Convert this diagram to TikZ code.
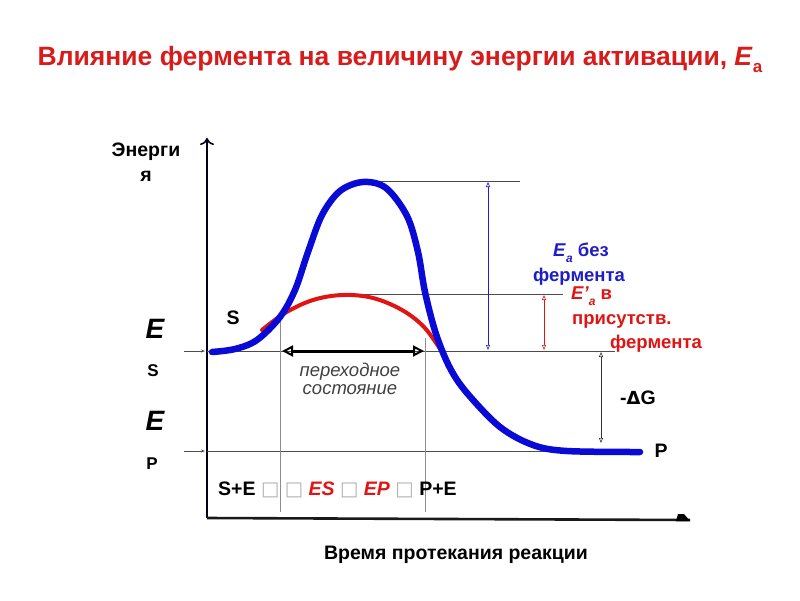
\documentclass[tikz,border=0pt]{standalone}
\usepackage{fontspec}
\setmainfont{Liberation Sans}
\setsansfont{Liberation Sans}
\newfontfamily\symfont{DejaVu Sans}
\usetikzlibrary{arrows.meta}
\definecolor{tred}{RGB}{216,28,28}
\definecolor{cred}{RGB}{225,20,20}
\definecolor{cblue}{RGB}{10,10,215}
\definecolor{tblue}{RGB}{30,30,200}
\newcommand{\gbx}{{\symfont\color{black!30}□}}
\begin{document}
\begin{tikzpicture}[x=1pt,y=-1pt,
  lbl/.style={font=\bfseries\fontsize{19.5}{22}\selectfont, inner sep=0pt},
  slbl/.style={font=\bfseries\fontsize{18.5}{20}\selectfont, inner sep=0pt},
  biglbl/.style={font=\bfseries\itshape\fontsize{28}{30}\selectfont, inner sep=0pt},
  smlbl/.style={font=\bfseries\fontsize{17}{19}\selectfont, inner sep=0pt},
  thinline/.style={draw=black!70, line width=0.6pt},
  greyline/.style={draw=black!45, line width=0.9pt},
  vtip/.style={{Triangle[open,length=5pt,width=4pt]}-{Triangle[open,length=5pt,width=4pt]}, line width=0.6pt}]
\useasboundingbox (0,0) rectangle (800,600);

% title
\node[font=\bfseries\fontsize{26.5}{30}\selectfont, text=tred, inner sep=0pt] (title) at (400,59)
  {Влияние фермента на величину энергии активации, \textit{E}\raisebox{-0.5ex}{\fontsize{17}{17}\selectfont а}};

% axes
\coordinate (o) at (207,518);
\coordinate (ytop) at (207,138);
\coordinate (xend) at (690,520);
\draw[line width=2.6pt, draw=black!90!blue, -{To[length=7pt,width=14pt,line width=1.6pt]}] (o) -- (ytop);
\draw[line width=2.6pt, draw=black!90] (o) -- (xend);
\fill[black] (676,521) -- (678,514) -- (684,514) -- (690,521) -- cycle;

% axis labels
\node[lbl] (en1) at (146,152) {Энерги};
\node[lbl] (en2) at (146,176) {я};
\node[lbl] (time) at (456,555) {Время протекания реакции};
\node[biglbl] (es1) at (155,329) {E};
\node[smlbl] (es2) at (153,371) {S};
\node[biglbl] (ep1) at (155,421) {E};
\node[smlbl] (ep2) at (152,464) {P};

% small level arrows
\coordinate (a1s) at (184,351); \coordinate (a1e) at (205,351);
\coordinate (a2s) at (184,451); \coordinate (a2e) at (205,451);
\draw[thinline, -{Stealth[length=4pt,width=3pt]}] (a1s) -- (a1e);
\draw[thinline, -{Stealth[length=4pt,width=3pt]}] (a2s) -- (a2e);

% horizontal level lines
\coordinate (esL) at (207,351); \coordinate (esR) at (615,351);
\coordinate (epL) at (207,451); \coordinate (epR) at (560,451);
\coordinate (topL) at (360,181); \coordinate (topR) at (520,181);
\coordinate (midL) at (345,294); \coordinate (midR) at (563,294);
\draw[thinline] (esL) -- (esR);
\draw[thinline] (epL) -- (epR);
\draw[thinline] (topL) -- (topR);
\draw[thinline] (midL) -- (midR);

% grey verticals
\coordinate (g1t) at (280,318); \coordinate (g1b) at (280,512);
\coordinate (g2t) at (425,338); \coordinate (g2b) at (425,512);
\draw[greyline] (g1t) -- (g1b);
\draw[greyline] (g2t) -- (g2b);

% curves
\draw[cred, line width=4pt, line cap=round] plot[smooth, tension=0.6] coordinates
  {(262,330) (285,313) (313,300) (343,295) (373,298) (402,310) (424,327) (440,349)};
\draw[cblue, line width=6.5pt, line cap=round] plot[smooth, tension=0.55] coordinates
  {(212,352) (235,349) (257,340) (280,317) (295,290) (308,252) (322,215) (340,191) (363,182) (386,188) (407,216) (418,252) (425,292) (436,334) (450,368) (467,393) (500,427) (533,445) (567,451) (640,452)};

% transition state arrow
\coordinate (tsL) at (282,351); \coordinate (tsR) at (424,351);
\draw[line width=3pt, {Triangle[open,length=11pt,width=11pt,line width=2pt]}-{Triangle[open,length=11pt,width=11pt,line width=2pt]}] (tsL) -- (tsR);
\node[font=\itshape\fontsize{18.5}{20}\selectfont, text=black!75, inner sep=0pt] (ts1) at (350,372) {переходное};
\node[font=\itshape\fontsize{18.5}{20}\selectfont, text=black!75, inner sep=0pt] (ts2) at (350,390) {состояние};

% vertical measuring arrows
\coordinate (b1t) at (488,182); \coordinate (b1b) at (488,350);
\coordinate (r1t) at (544,295); \coordinate (r1b) at (544,350);
\coordinate (k1t) at (601,352); \coordinate (k1b) at (601,443);
\draw[vtip, draw=tblue] (b1t) -- (b1b);
\draw[vtip, draw=cred] (r1t) -- (r1b);
\draw[vtip, draw=black!80] (k1t) -- (k1b);

% labels
\node[lbl] (S) at (233,318) {S};
\node[lbl] (P) at (661,451) {P};
\node[lbl] (dG) at (638,398) {-{\symfont\fontsize{18}{19}\selectfont Δ}G};
\node[slbl, text=tblue, anchor=west] (ea1) at (553,253) {\textit{E}\raisebox{-0.6ex}{\fontsize{12}{12}\selectfont\textit{a}} без};
\node[slbl, text=tblue, anchor=west] (ea2) at (533,277) {фермента};
\node[slbl, text=cred, anchor=west] (eb1) at (571,296) {\textit{E’}\raisebox{-0.6ex}{\fontsize{12}{12}\selectfont\textit{a}} в};
\node[slbl, text=cred, anchor=west] (eb2) at (572,321) {присутств.};
\node[slbl, text=cred, anchor=west] (eb3) at (610,344) {фермента};

% reaction scheme
\node[lbl, anchor=west] (scheme) at (218,490)
  {S+E \gbx\ \gbx\ \textcolor{cred}{\textit{ES}} \gbx\ \textcolor{cred}{\textit{EP}} \gbx\ P+E};
\end{tikzpicture}
\end{document}
